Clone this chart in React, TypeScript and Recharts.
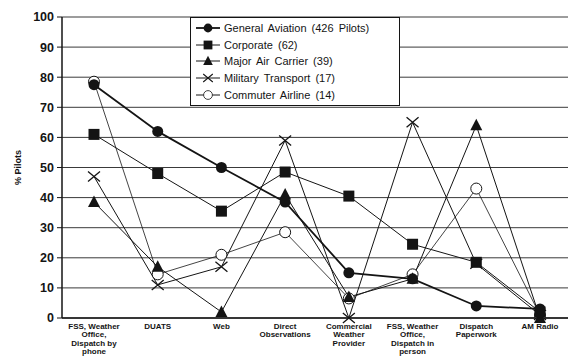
import React from "react";
import { LineChart, Line, XAxis, YAxis, CartesianGrid } from "recharts";

// Sources of weather information, one entry per category
const categories = [
  "FSS, Weather|Office,|Dispatch by|phone",
  "DUATS",
  "Web",
  "Direct|Observations",
  "Commercial|Weather|Provider",
  "FSS, Weather|Office,|Dispatch in|person",
  "Dispatch|Paperwork",
  "AM Radio",
];

const generalAviation = [77.5, 62, 50, 38.5, 15, 13, 4, 3];
const corporate = [61, 48, 35.5, 48.5, 40.5, 24.5, 18.5, 2];
const majorAirCarrier = [38.5, 17, 2, 41, 7, 13, 64, 0];
const militaryTransport = [47, 11, 17, 59, 0, 65, 18, 1];
const commuterAirline = [78.5, 14.5, 21, 28.5, 6.5, 14.5, 43, 1];

const yTicks = [0, 10, 20, 30, 40, 50, 60, 70, 80, 90, 100];

const seriesNames = [
  "General Aviation (426 Pilots)",
  "Corporate (62)",
  "Major Air Carrier (39)",
  "Military Transport (17)",
  "Commuter Airline (14)",
];

const INK = "#141414";
const FONT = "Arial, 'Liberation Sans', sans-serif";

const data = categories.map((c, i) => ({
  cat: c,
  ga: generalAviation[i],
  corp: corporate[i],
  major: majorAirCarrier[i],
  mil: militaryTransport[i],
  comm: commuterAirline[i],
}));

type Kind = "circle" | "square" | "triangle" | "cross" | "open";
const kinds: Kind[] = ["circle", "square", "triangle", "cross", "open"];

const Marker = ({ kind, cx, cy }: { kind: Kind; cx: number; cy: number }) => {
  switch (kind) {
    case "circle":
      return <circle cx={cx} cy={cy} r={5.5} fill={INK} />;
    case "square":
      return <rect x={cx - 5.5} y={cy - 5.5} width={11} height={11} fill={INK} />;
    case "triangle":
      return <path d={`M${cx},${cy - 6.5} L${cx + 6},${cy + 5} L${cx - 6},${cy + 5} Z`} fill={INK} />;
    case "cross":
      return (
        <path
          d={`M${cx - 6},${cy - 5} L${cx + 6},${cy + 5} M${cx + 6},${cy - 5} L${cx - 6},${cy + 5}`}
          stroke={INK}
          strokeWidth={1.3}
          fill="none"
        />
      );
    default:
      return <circle cx={cx} cy={cy} r={5.5} fill="#fff" stroke={INK} strokeWidth={1} />;
  }
};

const makeDot = (kind: Kind) => (props: any) => {
  const { cx, cy, index } = props;
  return <Marker key={`${kind}-${index}`} kind={kind} cx={cx} cy={cy} />;
};

const XTick = (props: any) => {
  const { x, y, payload } = props;
  const lines: string[] = String(payload.value).split("|");
  return (
    <text x={x} y={y} textAnchor="middle" fontSize={8} fontWeight="bold" fill={INK} fontFamily={FONT}>
      {lines.map((l, i) => (
        <tspan key={i} x={x} dy={i === 0 ? 3 : 8.3}>
          {l}
        </tspan>
      ))}
    </text>
  );
};

const LegendBox = () => (
  <div
    style={{
      position: "absolute",
      left: 190,
      top: 17,
      border: `1px solid ${INK}`,
      background: "#fff",
      width: 204,
      padding: "2px 0 2px 4px",
      fontFamily: FONT,
      fontSize: 11,
      color: INK,
    }}
  >
    {seriesNames.map((name, i) => (
      <div key={name} style={{ display: "flex", alignItems: "center", height: 16.6 }}>
        <svg width={26} height={14} style={{ marginRight: 3 }}>
          <line x1={1} y1={7} x2={25} y2={7} stroke={INK} strokeWidth={i === 0 ? 1.8 : 1} />
          <g transform="translate(2.6,1.4) scale(0.8)">
            <Marker kind={kinds[i]} cx={13} cy={7} />
          </g>
        </svg>
        <span style={{ wordSpacing: 2 }}>{name}</span>
      </div>
    ))}
  </div>
);

const App: React.FC = () => {
  return (
    <div style={{ position: "absolute", left: 0, top: 0, width: 568, height: 358, background: "#fff" }}>
      <LineChart width={568} height={358} data={data} margin={{ top: 17, right: 0, bottom: 0, left: 0 }}>
        <CartesianGrid vertical={false} stroke="#3a3a3a" strokeWidth={1} />
        <XAxis
          dataKey="cat"
          interval={0}
          padding={{ left: 32, right: 28 }}
          tick={<XTick />}
          tickLine={false}
          axisLine={{ stroke: INK, strokeWidth: 1.5 }}
          height={40}
        />
        <YAxis
          domain={[0, 100]}
          ticks={yTicks}
          width={62}
          tickSize={5}
          tickMargin={3}
          axisLine={{ stroke: INK, strokeWidth: 1.5 }}
          tickLine={{ stroke: INK }}
          tick={{ fontSize: 12.5, fontWeight: "bold", fill: INK, fontFamily: FONT }}
          label={{
            value: "% Pilots",
            angle: -90,
            position: "insideLeft",
            offset: 18,
            style: { fontSize: 9, fontWeight: "bold", fill: INK, fontFamily: FONT, textAnchor: "middle" },
          }}
        />
        <Line dataKey="comm" stroke={INK} strokeWidth={0.8} dot={makeDot("open")} isAnimationActive={false} />
        <Line dataKey="mil" stroke={INK} strokeWidth={1} dot={makeDot("cross")} isAnimationActive={false} />
        <Line dataKey="major" stroke={INK} strokeWidth={1} dot={makeDot("triangle")} isAnimationActive={false} />
        <Line dataKey="corp" stroke={INK} strokeWidth={1} dot={makeDot("square")} isAnimationActive={false} />
        <Line dataKey="ga" stroke={INK} strokeWidth={1.8} dot={makeDot("circle")} isAnimationActive={false} />
      </LineChart>
      <LegendBox />
    </div>
  );
};

export default App;
